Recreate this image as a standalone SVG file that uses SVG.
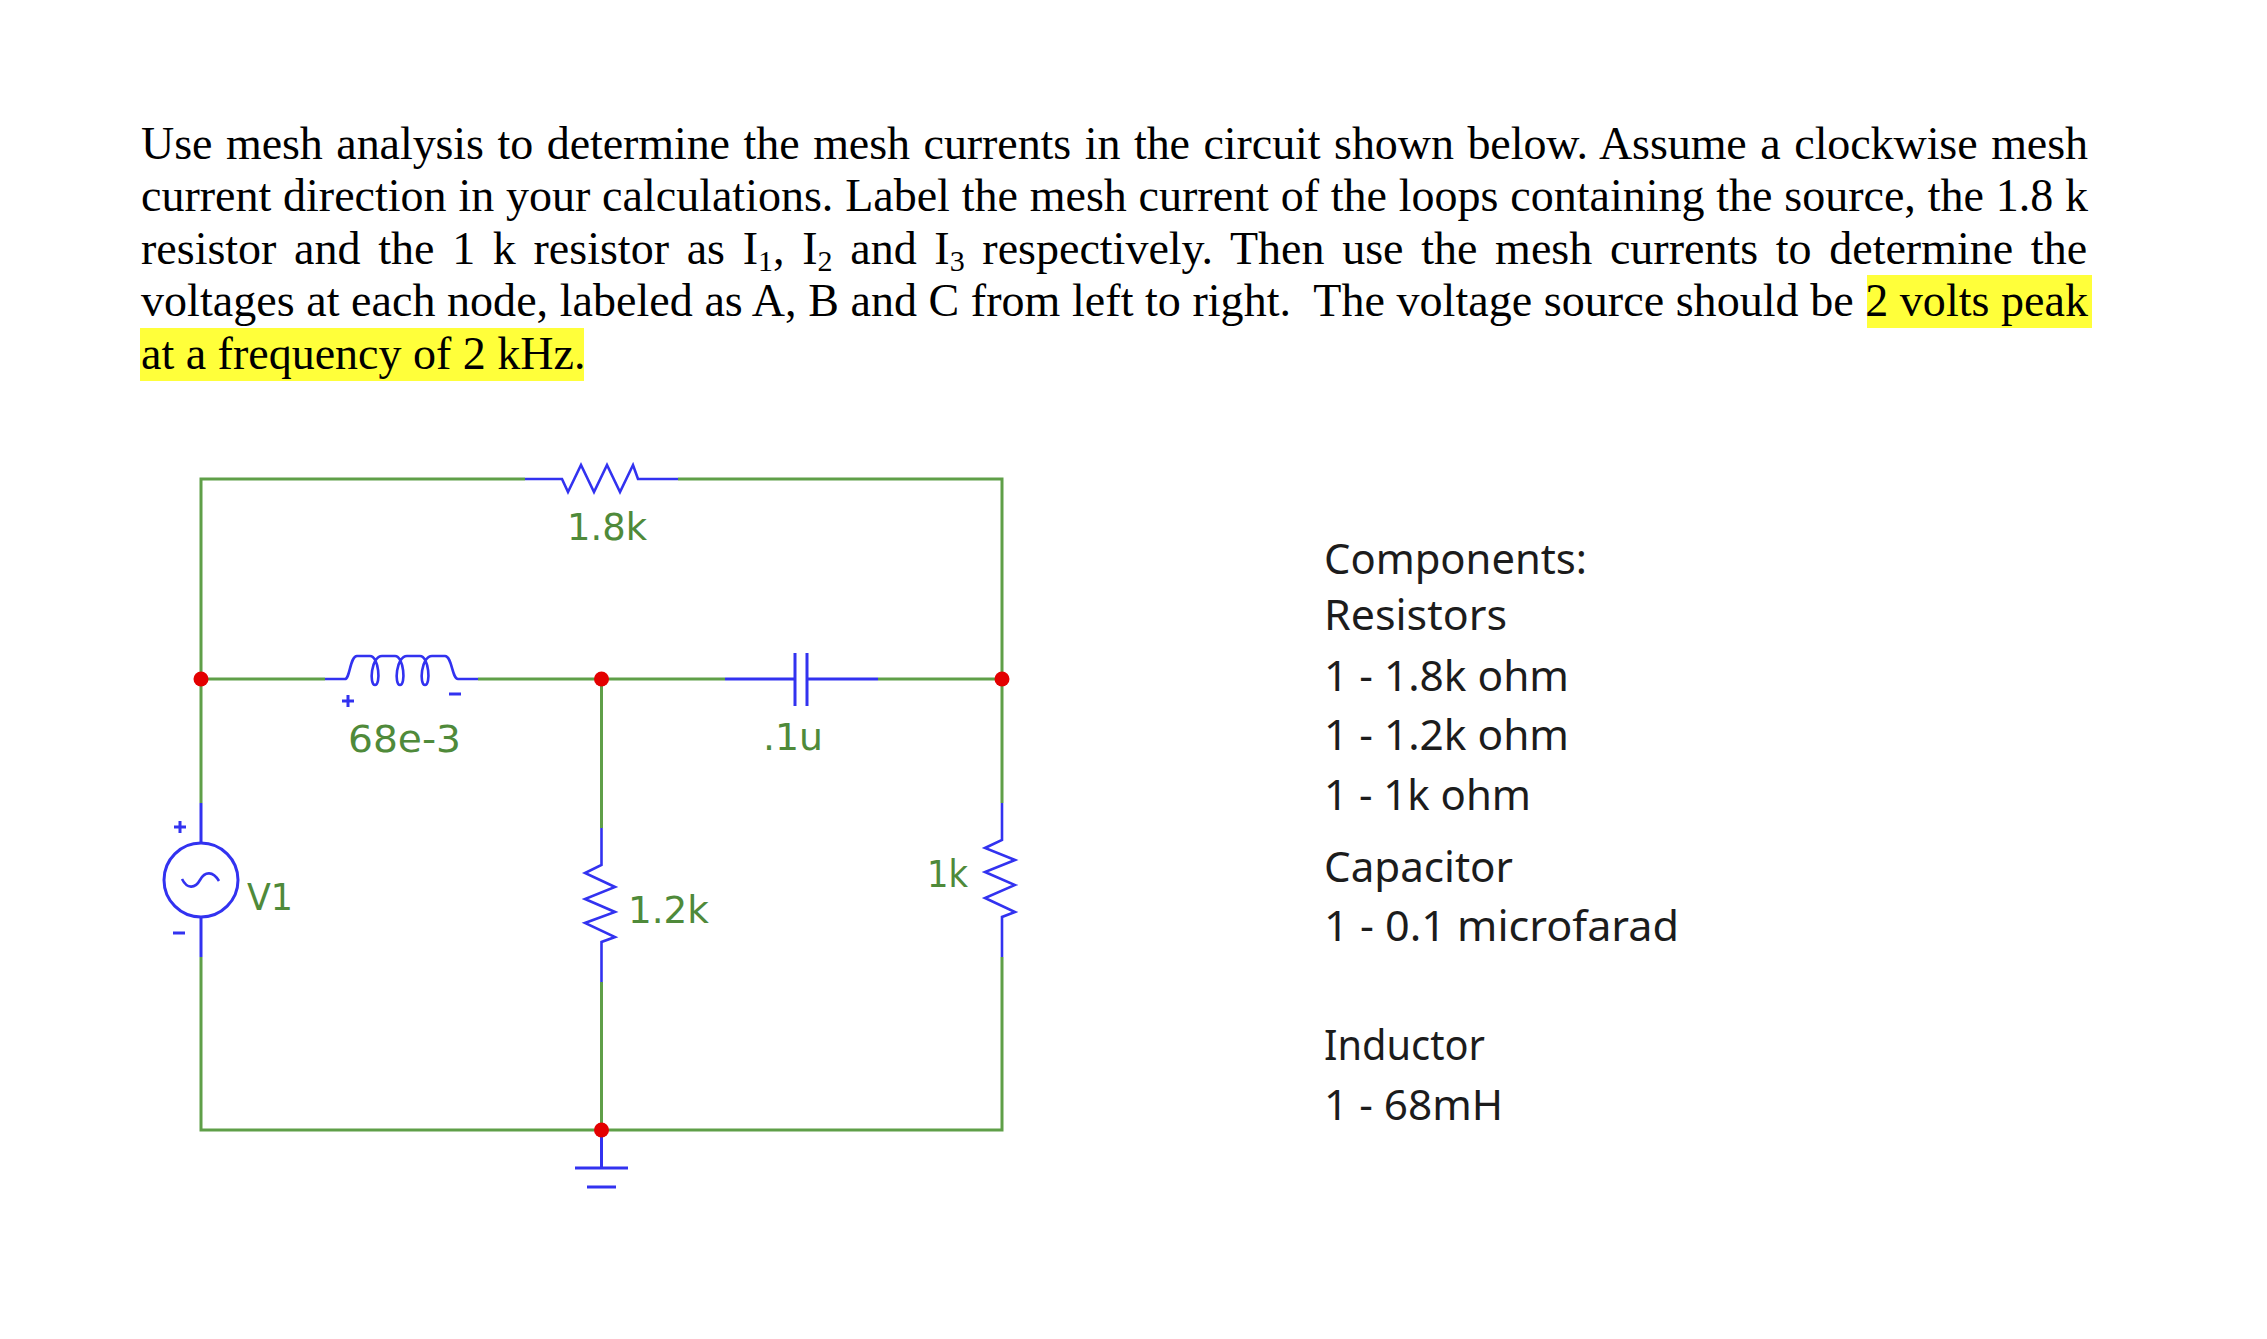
<svg xmlns="http://www.w3.org/2000/svg" width="2267" height="1339" viewBox="0 0 2267 1339">
<style>
.w{fill:none;stroke:#5f9f48;stroke-width:3;stroke-linejoin:miter}
.b{fill:none;stroke:#3232f0;stroke-width:3;stroke-linejoin:miter}
.z{fill:none;stroke:#3232f0;stroke-width:2.6;stroke-linejoin:miter}
.dot{fill:#e30000}
.lbl{font-family:"DejaVu Sans",Verdana,sans-serif;font-size:37px;fill:#4f8a3a}
.p{font-family:"Liberation Serif","Times New Roman",serif;font-size:46px;fill:#000}
.c{font-family:"Noto Sans","Open Sans",sans-serif;font-size:42px;fill:#1c1c1c}
.hl{fill:#ffff3a}
</style>
<rect width="2267" height="1339" fill="#fff"/>

<g id="problem-text">
  <rect class="hl" x="1867" y="275" width="225" height="53"/>
  <rect class="hl" x="140" y="328" width="444" height="53"/>
  <text class="p" x="141" y="158.5" textLength="1947" lengthAdjust="spacing" style="word-spacing:2.2px">Use mesh analysis to determine the mesh currents in the circuit shown below. Assume a clockwise mesh</text>
  <text class="p" x="141" y="211" textLength="1947" lengthAdjust="spacing" style="word-spacing:0.3px">current direction in your calculations. Label the mesh current of the loops containing the source, the 1.8 k</text>
  <text class="p" x="141" y="263.5" style="word-spacing:6.2px">resistor and the 1 k resistor as I<tspan font-size="30" dy="7">1</tspan><tspan dy="-7">, I</tspan><tspan font-size="30" dy="7">2</tspan><tspan dy="-7"> and I</tspan><tspan font-size="30" dy="7">3</tspan><tspan dy="-7"> respectively. Then use the mesh currents to determine the</tspan></text>
  <text class="p" x="141" y="315.5" xml:space="preserve" textLength="1947" lengthAdjust="spacing">voltages at each node, labeled as A, B and C from left to right.  The voltage source should be 2 volts peak</text>
  <text class="p" x="141" y="368.5">at a frequency of 2 kHz.</text>
</g>

<g id="wires">
  <path class="w" d="M201,679 V479 H525 M678,479 H1002 V679 M201,679 H325 M478,679 H725 M878,679 H1002 M201,679 V803 M201,957 V1130 H1002 V957 M1002,679 V803 M601.5,679 V828 M601.5,982 V1130"/>
</g>

<g id="V1">
  <path class="b" d="M201,803 V843 M201,917 V957"/>
  <circle class="b" cx="201" cy="880" r="37" stroke-width="2.8"/>
  <path class="z" d="M182,879 C187,889 195,889 200,880 C205,871 213,871 219,881"/>
  <path class="b" d="M174,827 H186 M180,821 V833 M173,933 H185"/>
  <text class="lbl" x="247" y="910" textLength="46" lengthAdjust="spacingAndGlyphs">V1</text>
</g>

<g id="R1">
  <path class="z" d="M525,479 H562 L568,492 L581,465 L594,492 L607,465 L620,492 L633,465 L638,479 H678"/>
  <text class="lbl" x="567" y="540" textLength="80" lengthAdjust="spacingAndGlyphs">1.8k</text>
</g>

<g id="L1">
  <path class="z" d="M325,679 H345 C350,679 350,656 357,656 H370 C379,656 381,685 375,685 C369,685 371,656 382,656 H395 C404,656 406,685 400,685 C394,685 396,656 407,656 H420 C429,656 431,685 425,685 C419,685 421,656 432,656 H445 C452,656 452,679 458,679 H478"/>
  <path class="b" d="M342,701 H354 M348,695 V707 M449,694 H461"/>
  <text class="lbl" x="348" y="751.5" textLength="113" lengthAdjust="spacingAndGlyphs">68e-3</text>
</g>

<g id="C1">
  <path class="b" d="M725,679 H795 M795,653 V706 M807,653 V706 M807,679 H878"/>
  <text class="lbl" x="763" y="750" textLength="60" lengthAdjust="spacingAndGlyphs">.1u</text>
</g>

<g id="R2">
  <path class="z" d="M601.5,828 V865 L585,873 L615,887 L585,899 L615,912 L585,923 L615,937 L601.5,942 V982"/>
  <text class="lbl" x="628" y="922.5" textLength="81" lengthAdjust="spacingAndGlyphs">1.2k</text>
</g>

<g id="R3">
  <path class="z" d="M1002,803 V840 L985,848 L1015,860 L985,872 L1015,885 L985,898 L1015,912 L1002,917 V957"/>
  <text class="lbl" x="927" y="887" textLength="41" lengthAdjust="spacingAndGlyphs">1k</text>
</g>

<g id="GND">
  <path class="b" d="M601.5,1130 V1168 M575,1168 H628 M587,1187 H616"/>
</g>

<g id="nodes">
  <circle id="nodeA" class="dot" cx="201" cy="679" r="7.5"/>
  <circle id="nodeB" class="dot" cx="601.5" cy="679" r="7.5"/>
  <circle id="nodeC" class="dot" cx="1002" cy="679" r="7.5"/>
  <circle id="nodeGND" class="dot" cx="601.5" cy="1130" r="7.5"/>
</g>

<g id="components-list">
  <text class="c" x="1324" y="573.5" textLength="263" lengthAdjust="spacingAndGlyphs">Components:</text>
  <text class="c" x="1324" y="630" textLength="183" lengthAdjust="spacingAndGlyphs">Resistors</text>
  <text class="c" x="1324" y="690.5" textLength="245" lengthAdjust="spacingAndGlyphs">1 - 1.8k ohm</text>
  <text class="c" x="1324" y="750" textLength="245" lengthAdjust="spacingAndGlyphs">1 - 1.2k ohm</text>
  <text class="c" x="1324" y="809.5" textLength="207" lengthAdjust="spacingAndGlyphs">1 - 1k ohm</text>
  <text class="c" x="1324" y="881.5" textLength="189" lengthAdjust="spacingAndGlyphs">Capacitor</text>
  <text class="c" x="1324" y="940.5" textLength="355" lengthAdjust="spacingAndGlyphs">1 - 0.1 microfarad</text>
  <text class="c" x="1324" y="1060" textLength="161" lengthAdjust="spacingAndGlyphs">Inductor</text>
  <text class="c" x="1324" y="1120" textLength="179" lengthAdjust="spacingAndGlyphs">1 - 68mH</text>
</g>
</svg>
